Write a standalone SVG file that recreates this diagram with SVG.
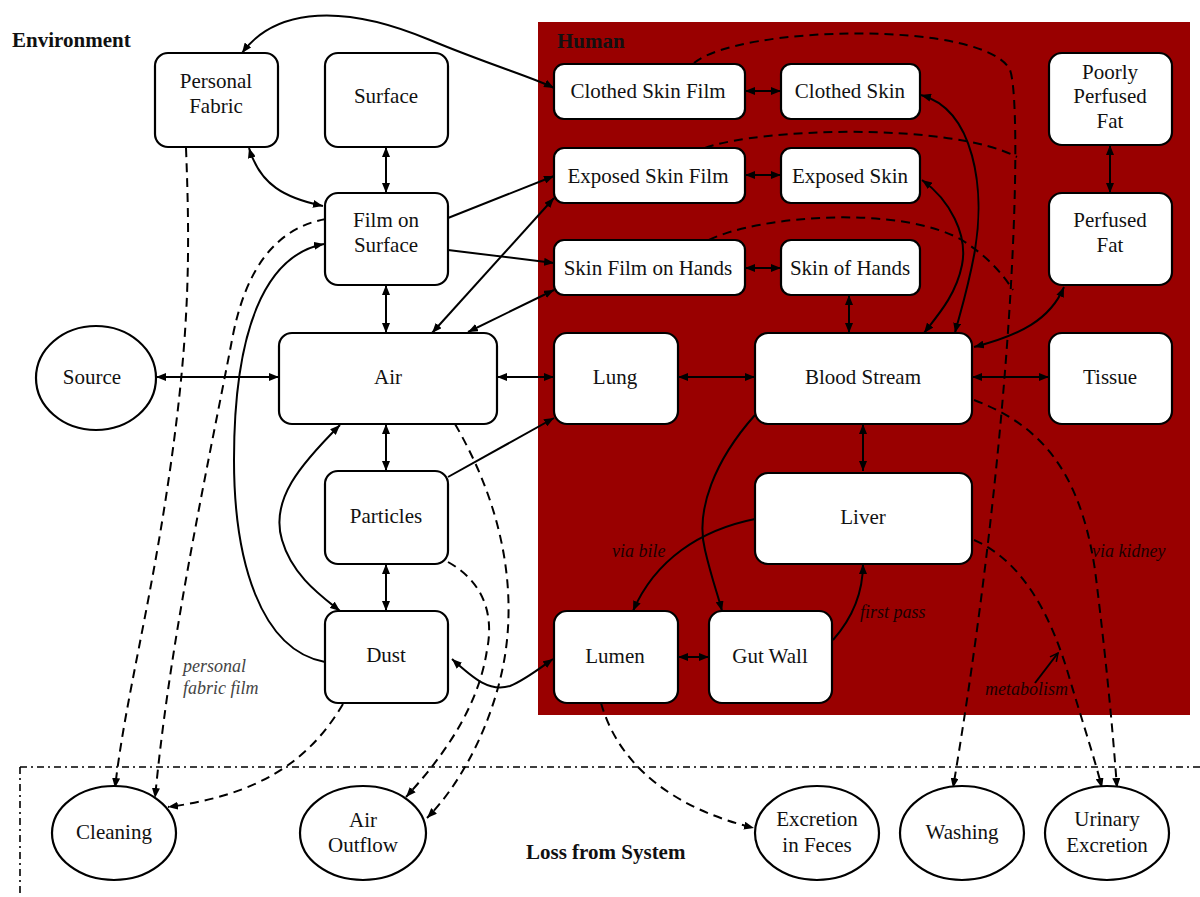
<svg xmlns="http://www.w3.org/2000/svg" width="1200" height="897" viewBox="0 0 1200 897">
<defs>
<style>
.bg{fill:#ffffff}
.human{fill:#990000}
.node{fill:#ffffff;stroke:#000;stroke-width:2.2}
.t{font-family:"Liberation Serif","Times New Roman",serif;font-size:21px;fill:#111;text-anchor:middle}
.b{font-family:"Liberation Serif","Times New Roman",serif;font-size:21px;font-weight:bold;fill:#111}
.i{font-family:"Liberation Serif","Times New Roman",serif;font-size:18px;font-style:italic;fill:#1a0000}
.ig{font-family:"Liberation Serif","Times New Roman",serif;font-size:18px;font-style:italic;fill:#444}
.c{fill:none;stroke:#000;stroke-width:2}
.d{fill:none;stroke:#000;stroke-width:2;stroke-dasharray:9 6}
.dd{fill:none;stroke:#000;stroke-width:1.6;stroke-dasharray:7 4 2 4}
</style>
<marker id="ah" viewBox="0 0 10 8" refX="10" refY="4" markerWidth="10" markerHeight="8" markerUnits="userSpaceOnUse" orient="auto-start-reverse">
<path d="M0,0 L10,4 L0,8 z" fill="#000"/>
</marker>
<marker id="ov" viewBox="0 0 10 10" refX="9" refY="5" markerWidth="10" markerHeight="10" markerUnits="userSpaceOnUse" orient="auto">
<path d="M1,1 L9,5 L1,9" fill="none" stroke="#000" stroke-width="1.5"/>
</marker>
</defs>
<rect class="bg" x="0" y="0" width="1200" height="897"/>
<rect class="human" x="538" y="22" width="652" height="693"/>
<path class="dd" d="M20 767 L1200 767 M20 767 L20 897"/>
<text class="b" x="12" y="47">Environment</text>
<text class="b" x="557" y="48">Human</text>
<text class="b" x="526" y="859">Loss from System</text>

<g id="connectors">
<path class="c" marker-start="url(#ah)" marker-end="url(#ah)" d="M242 53 C270 15, 330 -2, 430 40 C490 65, 535 78, 554 88"/>
<path class="c" marker-start="url(#ah)" marker-end="url(#ah)" d="M249 148 C260 185, 285 198, 323 206"/>
<path class="c" marker-start="url(#ah)" marker-end="url(#ah)" d="M386 147 L386 193"/>
<path class="c" marker-start="url(#ah)" marker-end="url(#ah)" d="M386 285 L386 333"/>
<path class="c" marker-start="url(#ah)" marker-end="url(#ah)" d="M386 424 L386 471"/>
<path class="c" marker-start="url(#ah)" marker-end="url(#ah)" d="M386 564 L386 611"/>
<path class="c" marker-start="url(#ah)" marker-end="url(#ah)" d="M156 377 L279 377"/>
<path class="c" marker-start="url(#ah)" marker-end="url(#ah)" d="M497 377 L554 377"/>
<path class="c" marker-start="url(#ah)" marker-end="url(#ah)" d="M678 377 L755 377"/>
<path class="c" marker-start="url(#ah)" marker-end="url(#ah)" d="M972 377 L1049 377"/>
<path class="c" marker-start="url(#ah)" marker-end="url(#ah)" d="M863 424 L863 471"/>
<path class="c" marker-start="url(#ah)" marker-end="url(#ah)" d="M678 657 L709 657"/>
<path class="c" marker-start="url(#ah)" marker-end="url(#ah)" d="M745 91 L781 91"/>
<path class="c" marker-start="url(#ah)" marker-end="url(#ah)" d="M745 175 L781 175"/>
<path class="c" marker-start="url(#ah)" marker-end="url(#ah)" d="M745 268 L781 268"/>
<path class="c" marker-start="url(#ah)" marker-end="url(#ah)" d="M849 295 L849 333"/>
<path class="c" marker-start="url(#ah)" marker-end="url(#ah)" d="M1110 145 L1110 193"/>
<path class="c" marker-end="url(#ah)" d="M448 218 L554 176"/>
<path class="c" marker-end="url(#ah)" d="M448 250 L554 263"/>
<path class="c" marker-start="url(#ah)" marker-end="url(#ah)" d="M554 198 L432 333"/>
<path class="c" marker-start="url(#ah)" marker-end="url(#ah)" d="M554 290 L468 332"/>
<path class="c" marker-end="url(#ah)" d="M448 477 L554 418"/>
<path class="c" marker-start="url(#ah)" marker-end="url(#ah)" d="M340 425 C300 465, 270 500, 282 540 C292 575, 320 595, 340 611"/>
<path class="c" marker-end="url(#ah)" d="M325 662 C260 650, 234 560, 234 460 C234 330, 265 255, 324 244"/>
<path class="c" marker-start="url(#ah)" marker-end="url(#ah)" d="M452 659 C475 680, 490 692, 510 686 C525 680, 540 668, 553 659"/>
<path class="c" marker-start="url(#ah)" marker-end="url(#ah)" d="M921 95 C975 110, 985 190, 975 250 C968 290, 958 320, 955 333"/>
<path class="c" marker-start="url(#ah)" marker-end="url(#ah)" d="M922 180 C950 200, 968 235, 962 265 C956 295, 938 315, 924 333"/>
<path class="c" marker-start="url(#ah)" marker-end="url(#ah)" d="M1064 287 C1050 320, 1020 335, 974 347"/>
<path class="c" marker-end="url(#ah)" d="M755 415 C715 460, 695 510, 705 550 C712 580, 718 595, 722 611"/>
<path class="c" marker-end="url(#ah)" d="M755 519 C700 530, 655 560, 633 611"/>
<path class="c" marker-end="url(#ah)" d="M833 640 C855 615, 863 590, 863 564"/>
<path class="d" marker-end="url(#ah)" d="M186 148 C190 250, 190 330, 170 470 C150 610, 125 700, 115 788"/>
<path class="d" marker-end="url(#ah)" d="M326 219 C275 228, 245 270, 232 340 C205 480, 170 640, 155 798"/>
<path class="d" marker-end="url(#ah)" d="M343 704 C310 760, 260 795, 168 807"/>
<path class="d" marker-end="url(#ah)" d="M455 424 C505 510, 520 600, 500 680 C485 740, 455 790, 427 818"/>
<path class="d" marker-end="url(#ah)" d="M448 562 C480 580, 495 610, 487 650 C478 710, 440 760, 406 797"/>
<path class="d" marker-end="url(#ah)" d="M601 703 C620 770, 680 810, 754 828"/>
<path class="d" marker-end="url(#ah)" d="M694 63 C740 25, 985 20, 1010 70 C1022 100, 1018 400, 953 788"/>
<path class="d" d="M705 148 C760 128, 950 122, 1017 157"/>
<path class="d" d="M709 240 C760 215, 900 205, 962 240 C985 255, 1000 270, 1013 290"/>
<path class="d" marker-end="url(#ah)" d="M974 400 C1040 425, 1080 470, 1095 570 C1105 650, 1112 720, 1117 788"/>
<path class="d" marker-end="url(#ah)" d="M974 540 C1020 560, 1050 610, 1070 680 C1085 730, 1095 760, 1102 788"/>
<path class="c" stroke-width="1.5" marker-end="url(#ov)" d="M1035 683 L1058 653"/>
</g>

<text class="ig" x="183" y="672">personal</text>
<text class="ig" x="183" y="694">fabric film</text>
<text class="i" x="612" y="557">via bile</text>
<text class="i" x="860" y="618">first pass</text>
<text class="i" x="1092" y="557">via kidney</text>
<text class="i" x="985" y="695">metabolism</text>

<g id="personal-fabric"><rect class="node" x="155" y="53" width="123" height="94" rx="13"/><text class="t" x="216" y="88">Personal</text><text class="t" x="216" y="113">Fabric</text></g>
<g id="surface"><rect class="node" x="325" y="53" width="123" height="94" rx="13"/><text class="t" x="386" y="103">Surface</text></g>
<g id="film-on-surface"><rect class="node" x="325" y="193" width="123" height="92" rx="13"/><text class="t" x="386" y="227">Film on</text><text class="t" x="386" y="252">Surface</text></g>
<g id="air"><rect class="node" x="279" y="333" width="218" height="91" rx="13"/><text class="t" x="388" y="384">Air</text></g>
<g id="particles"><rect class="node" x="325" y="471" width="123" height="93" rx="13"/><text class="t" x="386" y="523">Particles</text></g>
<g id="dust"><rect class="node" x="325" y="611" width="123" height="92" rx="13"/><text class="t" x="386" y="662">Dust</text></g>
<g id="source"><ellipse class="node" cx="96" cy="378" rx="60" ry="52"/><text class="t" x="92" y="384">Source</text></g>
<g id="clothed-skin-film"><rect class="node" x="554" y="64" width="191" height="55" rx="10"/><text class="t" x="648" y="98">Clothed Skin Film</text></g>
<g id="clothed-skin"><rect class="node" x="781" y="64" width="139" height="55" rx="10"/><text class="t" x="850" y="98">Clothed Skin</text></g>
<g id="exposed-skin-film"><rect class="node" x="554" y="148" width="191" height="55" rx="10"/><text class="t" x="648" y="183">Exposed Skin Film</text></g>
<g id="exposed-skin"><rect class="node" x="781" y="148" width="139" height="55" rx="10"/><text class="t" x="850" y="183">Exposed Skin</text></g>
<g id="skin-film-on-hands"><rect class="node" x="554" y="240" width="191" height="55" rx="10"/><text class="t" x="648" y="275">Skin Film on Hands</text></g>
<g id="skin-of-hands"><rect class="node" x="781" y="240" width="139" height="55" rx="10"/><text class="t" x="850" y="275">Skin of Hands</text></g>
<g id="poorly-perfused-fat"><rect class="node" x="1049" y="53" width="123" height="92" rx="13"/><text class="t" x="1110" y="79">Poorly</text><text class="t" x="1110" y="103">Perfused</text><text class="t" x="1110" y="128">Fat</text></g>
<g id="perfused-fat"><rect class="node" x="1049" y="193" width="123" height="92" rx="13"/><text class="t" x="1110" y="227">Perfused</text><text class="t" x="1110" y="252">Fat</text></g>
<g id="lung"><rect class="node" x="554" y="333" width="124" height="91" rx="13"/><text class="t" x="615" y="384">Lung</text></g>
<g id="blood-stream"><rect class="node" x="755" y="333" width="217" height="91" rx="13"/><text class="t" x="863" y="384">Blood Stream</text></g>
<g id="tissue"><rect class="node" x="1049" y="333" width="123" height="91" rx="13"/><text class="t" x="1110" y="384">Tissue</text></g>
<g id="liver"><rect class="node" x="755" y="473" width="217" height="91" rx="13"/><text class="t" x="863" y="524">Liver</text></g>
<g id="lumen"><rect class="node" x="554" y="611" width="124" height="92" rx="13"/><text class="t" x="615" y="663">Lumen</text></g>
<g id="gut-wall"><rect class="node" x="709" y="611" width="123" height="92" rx="13"/><text class="t" x="770" y="663">Gut Wall</text></g>
<g id="cleaning"><ellipse class="node" cx="114" cy="833" rx="62" ry="47"/><text class="t" x="114" y="839">Cleaning</text></g>
<g id="air-outflow"><ellipse class="node" cx="363" cy="833" rx="63" ry="47"/><text class="t" x="363" y="827">Air</text><text class="t" x="363" y="852">Outflow</text></g>
<g id="excretion-in-feces"><ellipse class="node" cx="817" cy="833" rx="62" ry="47"/><text class="t" x="817" y="826">Excretion</text><text class="t" x="817" y="852">in Feces</text></g>
<g id="washing"><ellipse class="node" cx="962" cy="833" rx="62" ry="47"/><text class="t" x="962" y="839">Washing</text></g>
<g id="urinary-excretion"><ellipse class="node" cx="1107" cy="833" rx="62" ry="47"/><text class="t" x="1107" y="826">Urinary</text><text class="t" x="1107" y="852">Excretion</text></g>
</svg>
